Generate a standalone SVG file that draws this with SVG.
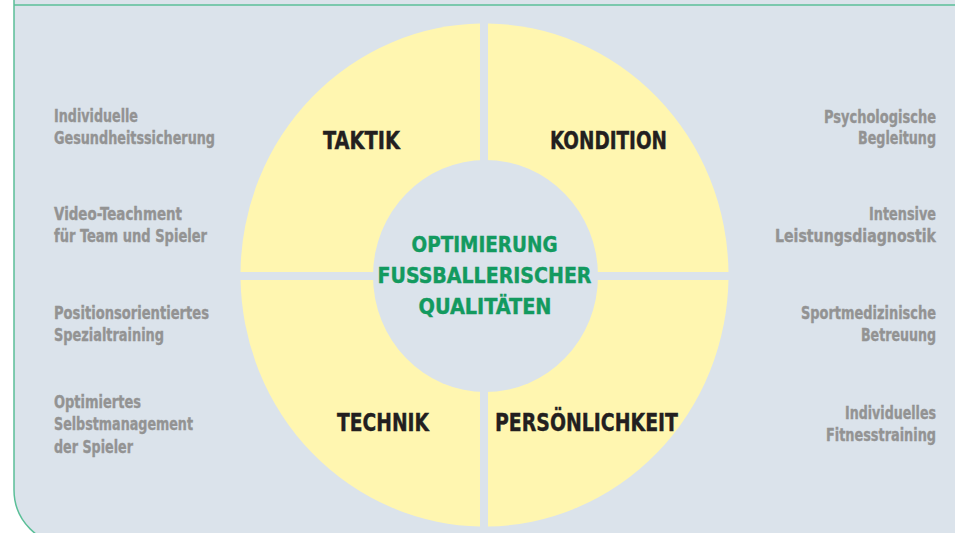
<svg xmlns="http://www.w3.org/2000/svg" width="955" height="533" viewBox="0 0 955 533">
<style>
.bg{fill:#dbe3eb}
.border{fill:none;stroke:#5bbf98;stroke-width:1.5}
.q{fill:#fff6b0}
.t{font-family:"Liberation Sans Narrow","DejaVu Sans Condensed","DejaVu Sans",sans-serif;font-weight:bold}
.side{font-size:17px;fill:#939393;stroke:#939393;stroke-width:0.35}
.lbl{font-size:25px;fill:#231f20;stroke:#231f20;stroke-width:0.4}
.ctr{font-size:22px;fill:#139a5f;stroke:#139a5f;stroke-width:0.4;text-anchor:middle}
.r{text-anchor:end}
</style>
<defs>
<clipPath id="cTL"><rect x="0" y="0" width="480" height="272"/></clipPath>
<clipPath id="cTR"><rect x="488" y="0" width="467" height="272"/></clipPath>
<clipPath id="cBL"><rect x="0" y="280" width="480" height="253"/></clipPath>
<clipPath id="cBR"><rect x="488" y="280" width="467" height="253"/></clipPath>
</defs>
<rect width="955" height="533" fill="#ffffff"/>
<g id="panel">
<path class="bg" d="M14 -5 H955 V545 H69 A55 55 0 0 1 14 490 Z"/>
<path class="border" d="M14 5 H955"/>
<path class="border" d="M14 -5 V490 A55 55 0 0 0 69 545"/>
</g>
<g id="taktik">
<ellipse class="q" cx="484.5" cy="275" rx="244" ry="251.5" clip-path="url(#cTL)"/>
<text class="t lbl" x="323" y="149" textLength="77" lengthAdjust="spacingAndGlyphs">TAKTIK</text>
</g>
<g id="kondition">
<ellipse class="q" cx="484.5" cy="275" rx="244" ry="251.5" clip-path="url(#cTR)"/>
<text class="t lbl" x="550" y="149" textLength="117" lengthAdjust="spacingAndGlyphs">KONDITION</text>
</g>
<g id="technik">
<ellipse class="q" cx="484.5" cy="275" rx="244" ry="251.5" clip-path="url(#cBL)"/>
<text class="t lbl" x="337" y="431" textLength="92" lengthAdjust="spacingAndGlyphs">TECHNIK</text>
</g>
<g id="persoenlichkeit">
<ellipse class="q" cx="484.5" cy="275" rx="244" ry="251.5" clip-path="url(#cBR)"/>
<text class="t lbl" x="495" y="431" textLength="183" lengthAdjust="spacingAndGlyphs">PERSÖNLICHKEIT</text>
</g>
<g id="center">
<ellipse class="bg" cx="485.5" cy="276" rx="112.5" ry="116"/>
<text class="t ctr" x="484.5" y="252" textLength="146" lengthAdjust="spacingAndGlyphs">OPTIMIERUNG</text>
<text class="t ctr" x="484.5" y="283" textLength="214" lengthAdjust="spacingAndGlyphs">FUSSBALLERISCHER</text>
<text class="t ctr" x="485" y="313.5" textLength="133" lengthAdjust="spacingAndGlyphs">QUALITÄTEN</text>
</g>
<g id="left1">
<text class="t side" x="54" y="122" textLength="84" lengthAdjust="spacingAndGlyphs">Individuelle</text>
<text class="t side" x="54" y="144" textLength="161" lengthAdjust="spacingAndGlyphs">Gesundheitssicherung</text>
</g>
<g id="left2">
<text class="t side" x="54" y="220" textLength="128" lengthAdjust="spacingAndGlyphs">Video-Teachment</text>
<text class="t side" x="54" y="242" textLength="153" lengthAdjust="spacingAndGlyphs">für Team und Spieler</text>
</g>
<g id="left3">
<text class="t side" x="54" y="318.5" textLength="155" lengthAdjust="spacingAndGlyphs">Positionsorientiertes</text>
<text class="t side" x="54" y="340.5" textLength="110" lengthAdjust="spacingAndGlyphs">Spezialtraining</text>
</g>
<g id="left4">
<text class="t side" x="54" y="407.5" textLength="87" lengthAdjust="spacingAndGlyphs">Optimiertes</text>
<text class="t side" x="54" y="430" textLength="139" lengthAdjust="spacingAndGlyphs">Selbstmanagement</text>
<text class="t side" x="54" y="453" textLength="79" lengthAdjust="spacingAndGlyphs">der Spieler</text>
</g>
<g id="right1">
<text class="t side r" x="936" y="122.5" textLength="112" lengthAdjust="spacingAndGlyphs">Psychologische</text>
<text class="t side r" x="936" y="144" textLength="78" lengthAdjust="spacingAndGlyphs">Begleitung</text>
</g>
<g id="right2">
<text class="t side r" x="936" y="220" textLength="67" lengthAdjust="spacingAndGlyphs">Intensive</text>
<text class="t side r" x="936" y="242" textLength="161" lengthAdjust="spacingAndGlyphs">Leistungsdiagnostik</text>
</g>
<g id="right3">
<text class="t side r" x="936" y="318.5" textLength="135" lengthAdjust="spacingAndGlyphs">Sportmedizinische</text>
<text class="t side r" x="936" y="340.5" textLength="75" lengthAdjust="spacingAndGlyphs">Betreuung</text>
</g>
<g id="right4">
<text class="t side r" x="936" y="418.5" textLength="91" lengthAdjust="spacingAndGlyphs">Individuelles</text>
<text class="t side r" x="936" y="440.5" textLength="110" lengthAdjust="spacingAndGlyphs">Fitnesstraining</text>
</g>
<g id="connectors"></g>
</svg>
